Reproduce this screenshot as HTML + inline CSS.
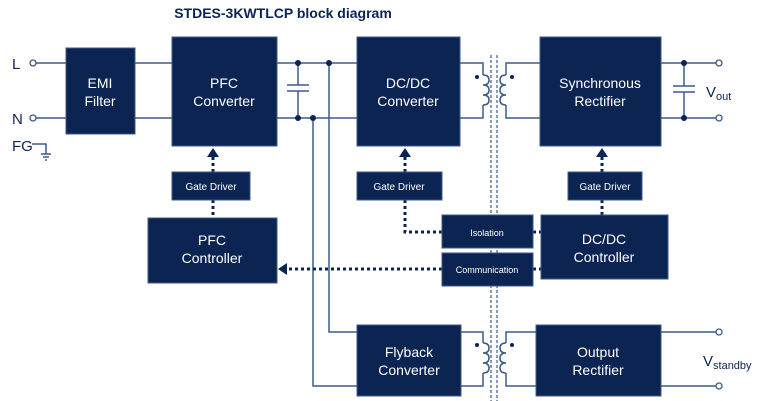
<!DOCTYPE html>
<html><head><style>body{margin:0;background:#fff}svg{display:block}</style></head><body>
<svg width="764" height="401" viewBox="0 0 764 401" xmlns="http://www.w3.org/2000/svg" font-family="Liberation Sans, sans-serif">
<rect width="764" height="401" fill="#fff"/>
<text x="283" y="18" text-anchor="middle" font-size="14" font-weight="bold" fill="#0b2452">STDES-3KWTLCP block diagram</text>
<g stroke="#3d5a8a" stroke-width="1.5" fill="none">
<line x1="36" y1="63" x2="66" y2="63"/><line x1="36" y1="118" x2="66" y2="118"/>
<line x1="135" y1="63" x2="172" y2="63"/><line x1="135" y1="118" x2="172" y2="118"/>
<line x1="277" y1="63" x2="357" y2="63"/><line x1="277" y1="118" x2="357" y2="118"/>
<line x1="298" y1="63" x2="298" y2="85"/><line x1="298" y1="91" x2="298" y2="118"/>
<line x1="287" y1="85" x2="309" y2="85"/><line x1="287" y1="91" x2="309" y2="91"/>
<polyline points="329,63 329,332 357,332"/>
<polyline points="313,118 313,386 357,386"/>
<polyline points="460,63 483,63 483,75"/><polyline points="460,118 483,118 483,105"/>
<path d="M483,75 q6,0 6,5 q0,5 -6,5 q6,0 6,5 q0,5 -6,5 q6,0 6,5 q0,5 -6,5"/>
<polyline points="540,63 506,63 506,75"/><polyline points="540,118 506,118 506,105"/>
<path d="M506,75 q-6,0 -6,5 q0,5 6,5 q-6,0 -6,5 q0,5 6,5 q-6,0 -6,5 q0,5 6,5"/>
<polyline points="461,332 483,332 483,343"/><polyline points="461,386 483,386 483,373"/>
<path d="M483,343 q6,0 6,5 q0,5 -6,5 q6,0 6,5 q0,5 -6,5 q6,0 6,5 q0,5 -6,5"/>
<polyline points="536,332 506,332 506,343"/><polyline points="536,386 506,386 506,373"/>
<path d="M506,343 q-6,0 -6,5 q0,5 6,5 q-6,0 -6,5 q0,5 6,5 q-6,0 -6,5 q0,5 6,5"/>
<line x1="661" y1="63" x2="716" y2="63"/><line x1="661" y1="118" x2="716" y2="118"/>
<line x1="684" y1="63" x2="684" y2="86"/><line x1="684" y1="92" x2="684" y2="118"/>
<line x1="673" y1="86" x2="695" y2="86"/><line x1="673" y1="92" x2="695" y2="92"/>
<line x1="661" y1="332" x2="716" y2="332"/><line x1="661" y1="386" x2="716" y2="386"/>
<polyline points="32,144 46,144 46,154"/>
<line x1="41" y1="154" x2="51" y2="154"/><line x1="43" y1="157" x2="49" y2="157"/><line x1="45" y1="160" x2="47" y2="160"/>
</g>
<g stroke="#3d5a8a" stroke-width="1.2" stroke-dasharray="3,2">
<line x1="491" y1="55" x2="491" y2="401"/><line x1="497" y1="55" x2="497" y2="401"/>
</g>
<g fill="#fff" stroke="#3d5a8a" stroke-width="1.3">
<circle cx="33" cy="63" r="3"/><circle cx="33" cy="118" r="3"/>
<circle cx="719" cy="63" r="3"/><circle cx="719" cy="118" r="3"/>
<circle cx="719" cy="332" r="3"/><circle cx="719" cy="386" r="3"/>
</g>
<g fill="#0b2452">
<circle cx="298" cy="63" r="3"/><circle cx="298" cy="118" r="3"/>
<circle cx="329" cy="63" r="3"/><circle cx="313" cy="118" r="3"/>
<circle cx="684" cy="63" r="3"/><circle cx="684" cy="118" r="3"/>
<circle cx="477" cy="77" r="2"/><circle cx="512" cy="77" r="2"/>
<circle cx="477" cy="345" r="2"/><circle cx="512" cy="345" r="2"/>
</g>
<g stroke="#0b2452" stroke-width="3" stroke-dasharray="3,3" fill="none">
<line x1="213" y1="172" x2="213" y2="157"/><line x1="213" y1="200" x2="213" y2="218"/>
<line x1="405" y1="172" x2="405" y2="157"/><polyline points="405,200 405,232 442,232"/>
<line x1="602" y1="172" x2="602" y2="157"/><line x1="602" y1="200" x2="602" y2="215"/>
<line x1="533" y1="232" x2="541" y2="232"/><line x1="533" y1="269" x2="541" y2="269"/>
<line x1="442" y1="269" x2="287" y2="269"/>
</g>
<g fill="#0b2452">
<polygon points="207,157 219,157 213,148"/><polygon points="399,157 411,157 405,148"/>
<polygon points="596,157 608,157 602,148"/><polygon points="287,263 287,275 278,269"/>
</g>
<g fill="#0b2452" stroke="#3d5a8a" stroke-width="1">
<rect x="66" y="48" width="69" height="86"/><rect x="172" y="37" width="105" height="109"/>
<rect x="357" y="37" width="103" height="109"/><rect x="540" y="37" width="121" height="109"/>
<rect x="172" y="172" width="78" height="28"/><rect x="357" y="172" width="85" height="28"/>
<rect x="568" y="172" width="74" height="28"/><rect x="148" y="218" width="129" height="65"/>
<rect x="442" y="215" width="91" height="33"/><rect x="442" y="253" width="91" height="33"/>
<rect x="541" y="215" width="127" height="64"/><rect x="357" y="325" width="104" height="71"/>
<rect x="536" y="325" width="125" height="71"/>
</g>
<g fill="#fff" font-size="14" text-anchor="middle">
<text x="100" y="88">EMI</text><text x="100" y="106">Filter</text>
<text x="224" y="88">PFC</text><text x="224" y="106">Converter</text>
<text x="408" y="88">DC/DC</text><text x="408" y="106">Converter</text>
<text x="600" y="88">Synchronous</text><text x="600" y="106">Rectifier</text>
<text x="212" y="245">PFC</text><text x="212" y="263">Controller</text>
<text x="604" y="244">DC/DC</text><text x="604" y="262">Controller</text>
<text x="409" y="357">Flyback</text><text x="409" y="375">Converter</text>
<text x="598" y="357">Output</text><text x="598" y="375">Rectifier</text>
<g font-size="10"><text x="211" y="190">Gate Driver</text><text x="399" y="190">Gate Driver</text><text x="605" y="190">Gate Driver</text></g>
<g font-size="9"><text x="487" y="236">Isolation</text><text x="487" y="273">Communication</text></g>
</g>
<g fill="#0b2452" font-size="15">
<text x="12" y="69">L</text><text x="12" y="124">N</text><text x="12" y="151">FG</text>
<text x="706" y="97">V<tspan font-size="11" dy="3">out</tspan></text>
<text x="703" y="366">V<tspan font-size="11" dy="3">standby</tspan></text>
</g>
</svg>
</body></html>
